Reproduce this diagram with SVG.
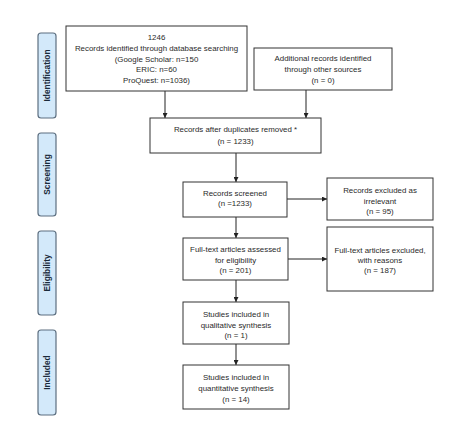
<svg xmlns="http://www.w3.org/2000/svg" width="474" height="436" viewBox="0 0 474 436">
<style>
.box{fill:#fff;stroke:#333;stroke-width:1}
.tab{fill:#d3e9fa;stroke:#5d6f80;stroke-width:1.2}
.t{font-family:"Liberation Sans",Arial,sans-serif;font-size:7.9px;fill:#2a2a2a;text-anchor:middle}
.tl{font-family:"Liberation Sans",Arial,sans-serif;font-size:8.4px;font-weight:bold;fill:#1a2a3a;text-anchor:middle}
.c{stroke:#222;stroke-width:1;fill:none}
</style>
<defs>
<marker id="ah" viewBox="0 0 8 8" refX="8" refY="4" markerWidth="5" markerHeight="5" orient="auto">
<path d="M0,0 L8,4 L0,8 z" fill="#222"/>
</marker>
</defs>
<rect width="474" height="436" fill="#fff"/>
<g id="tab-identification">
<rect class="tab" x="38" y="33" width="18" height="85" rx="3"/>
<text class="tl" transform="translate(50,75.5) rotate(-90)">Identification</text>
</g>
<g id="tab-screening">
<rect class="tab" x="38" y="133" width="18" height="83" rx="3"/>
<text class="tl" transform="translate(50,174.5) rotate(-90)">Screening</text>
</g>
<g id="tab-eligibility">
<rect class="tab" x="38" y="231" width="18" height="84" rx="3"/>
<text class="tl" transform="translate(50,273) rotate(-90)">Eligibility</text>
</g>
<g id="tab-included">
<rect class="tab" x="38" y="330" width="18" height="85" rx="3"/>
<text class="tl" transform="translate(50,372.5) rotate(-90)">Included</text>
</g>
<g id="connectors">
<line class="c" x1="165" y1="91" x2="165" y2="118" marker-end="url(#ah)"/>
<line class="c" x1="306" y1="90" x2="306" y2="118" marker-end="url(#ah)"/>
<line class="c" x1="236" y1="153" x2="236" y2="182" marker-end="url(#ah)"/>
<line class="c" x1="287" y1="199" x2="327" y2="199" marker-end="url(#ah)"/>
<line class="c" x1="236" y1="217" x2="236" y2="238" marker-end="url(#ah)"/>
<line class="c" x1="288" y1="259" x2="327" y2="259" marker-end="url(#ah)"/>
<line class="c" x1="236" y1="280" x2="236" y2="302" marker-end="url(#ah)"/>
<line class="c" x1="236" y1="344" x2="236" y2="365" marker-end="url(#ah)"/>
</g>
<g id="n-database">
<rect class="box" x="66" y="26" width="181" height="65"/>
<text class="t" x="156.5" y="40">1246</text>
<text class="t" x="156.5" y="51">Records identified through database searching</text>
<text class="t" x="156.5" y="62">(Google Scholar: n=150</text>
<text class="t" x="156.5" y="72">ERIC: n=60</text>
<text class="t" x="156.5" y="83">ProQuest: n=1036)</text>
</g>
<g id="n-other">
<rect class="box" x="254" y="48" width="138" height="42"/>
<text class="t" x="323" y="61">Additional records identified</text>
<text class="t" x="323" y="72">through other sources</text>
<text class="t" x="323" y="83">(n = 0)</text>
</g>
<g id="n-dup">
<rect class="box" x="150" y="118" width="171" height="35"/>
<text class="t" x="235.5" y="132">Records after duplicates removed *</text>
<text class="t" x="235.5" y="144">(n = 1233)</text>
</g>
<g id="n-screened">
<rect class="box" x="183" y="182" width="104" height="35"/>
<text class="t" x="235" y="196">Records screened</text>
<text class="t" x="235" y="206">(n =1233)</text>
</g>
<g id="n-excl1">
<rect class="box" x="327" y="178" width="106" height="42"/>
<text class="t" x="380" y="193">Records excluded as</text>
<text class="t" x="380" y="204">irrelevant</text>
<text class="t" x="380" y="214">(n = 95)</text>
</g>
<g id="n-fulltext">
<rect class="box" x="183" y="238" width="105" height="42"/>
<text class="t" x="235.5" y="252">Full-text articles assessed</text>
<text class="t" x="235.5" y="263">for eligibility</text>
<text class="t" x="235.5" y="273">(n = 201)</text>
</g>
<g id="n-excl2">
<rect class="box" x="327" y="227" width="106" height="64"/>
<text class="t" x="380" y="253">Full-text articles excluded,</text>
<text class="t" x="380" y="263">with reasons</text>
<text class="t" x="380" y="273">(n = 187)</text>
</g>
<g id="n-qual">
<rect class="box" x="183" y="302" width="106" height="42"/>
<text class="t" x="236" y="317">Studies included in</text>
<text class="t" x="236" y="328">qualitative synthesis</text>
<text class="t" x="236" y="338">(n = 1)</text>
</g>
<g id="n-quant">
<rect class="box" x="183" y="365" width="106" height="44"/>
<text class="t" x="236" y="380">Studies included in</text>
<text class="t" x="236" y="391">quantitative synthesis</text>
<text class="t" x="236" y="402">(n = 14)</text>
</g>
</svg>
